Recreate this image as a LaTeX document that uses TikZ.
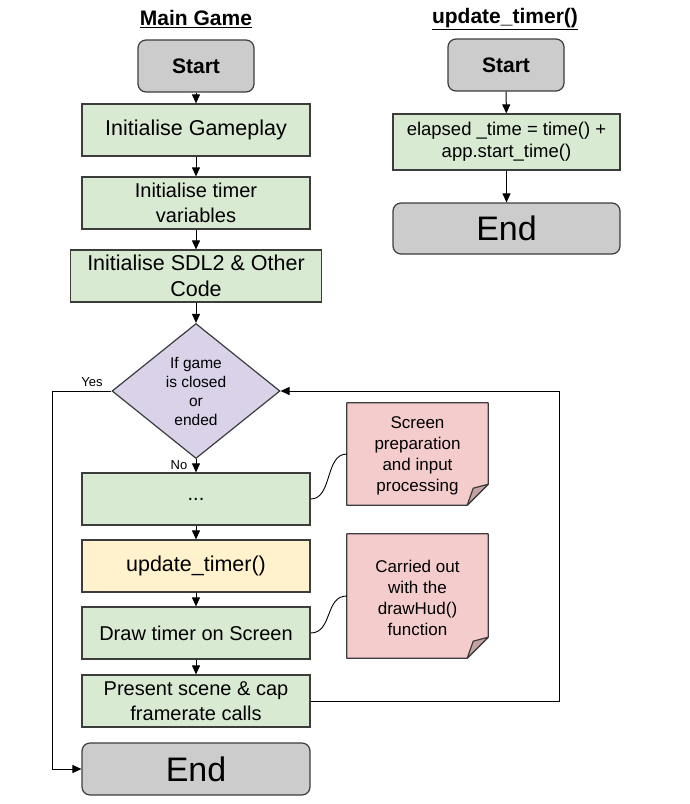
\documentclass[tikz,border=0pt]{standalone}
\usepackage{fontspec}
\setmainfont{Liberation Sans}
\usetikzlibrary{arrows.meta,shapes.geometric,calc}
\definecolor{boxgreen}{HTML}{D9EAD3}
\definecolor{boxgray}{HTML}{CCCCCC}
\definecolor{boxyellow}{HTML}{FFF2CC}
\definecolor{boxpurple}{HTML}{D9D2E9}
\definecolor{boxpink}{HTML}{F4CCCC}
\definecolor{foldpink}{HTML}{C4A3A3}
\definecolor{edgegray}{HTML}{3C3C3C}
\tikzset{
  base/.style={draw=edgegray, line width=1.2pt, align=center, inner sep=2pt, text=black},
  procbox/.style={base, rectangle, fill=boxgreen, minimum width=228pt, minimum height=52pt},
  termbox/.style={base, rectangle, rounded corners=8pt, fill=boxgray},
  decbox/.style={base, diamond, fill=boxpurple, minimum width=168pt, minimum height=135pt, inner sep=0pt},
  notebox/.style={rectangle, minimum width=141pt, align=center, inner sep=0pt},
  notetxt/.style={align=center, inner sep=0pt, font=\fontsize{17}{21}\selectfont},
  flow/.style={draw=black, line width=1pt, -{Triangle[length=9pt,width=8pt]}},
  link/.style={draw=black, line width=0.9pt},
  notefrm/.style={draw=edgegray, line width=1.2pt, line join=round},
  titletxt/.style={font=\fontsize{21}{25}\selectfont\bfseries},
  lbl/.style={font=\fontsize{13}{15}\selectfont, inner sep=0pt}
}
\begin{document}
\begin{tikzpicture}[x=1pt,y=-1pt]
\useasboundingbox (0,0) rectangle (689,804);

% titles
\node[titletxt] (t1) at (196,19) {\underline{Main Game}};
\node[titletxt] (t2) at (505,19) {\underline{update\_timer()}};

% main game column
\node[termbox, minimum width=116pt, minimum height=52pt, font=\fontsize{21}{25}\selectfont\bfseries] (s1) at (196,66) {Start};
\node[procbox, font=\fontsize{21.5}{26}\selectfont] (ig) at (196,130) {Initialise Gameplay};
\node[procbox, font=\fontsize{20}{25}\selectfont] (itv) at (196,203) {Initialise timer\\variables};
\node[procbox, minimum width=251pt, font=\fontsize{21.5}{26}\selectfont] (sdl) at (196,276) {Initialise SDL2 \& Other\\Code};
\node[decbox, font=\fontsize{15.5}{19}\selectfont] (dia) at (196,391) {If game\\is closed\\or\\ended};
\node[procbox, font=\fontsize{20}{24}\selectfont] (dots) at (196,499) {...};
\node[procbox, fill=boxyellow, font=\fontsize{21.5}{26}\selectfont] (upd) at (196,566) {update\_timer()};
\node[procbox, font=\fontsize{20}{25}\selectfont] (drw) at (196,633) {Draw timer on Screen};
\node[procbox, font=\fontsize{20}{25}\selectfont] (pres) at (196,701) {Present scene \& cap\\framerate calls};
\node[termbox, minimum width=228pt, minimum height=52pt, font=\fontsize{34}{38}\selectfont] (e1) at (196,769) {End};

% notes (frames)
\node[notebox, minimum height=102pt] (n1) at (417.5,454) {};
\node[notebox, minimum height=124pt] (n2) at (417.5,596) {};
\filldraw[notefrm, fill=boxpink] (n1.north west) -- (n1.north east) -- ($(n1.south east)+(0,-21)$) -- ($(n1.south east)+(-21,0)$) -- (n1.south west) -- cycle;
\filldraw[notefrm, fill=boxpink] (n2.north west) -- (n2.north east) -- ($(n2.south east)+(0,-21)$) -- ($(n2.south east)+(-21,0)$) -- (n2.south west) -- cycle;
\filldraw[notefrm, fill=foldpink] ($(n1.south east)+(0,-21)$) -- ($(n1.south east)+(-15,-17)$) -- ($(n1.south east)+(-21,0)$) -- cycle;
\filldraw[notefrm, fill=foldpink] ($(n2.south east)+(0,-21)$) -- ($(n2.south east)+(-15,-17)$) -- ($(n2.south east)+(-21,0)$) -- cycle;
\node[notetxt] (n1t) at ($(n1)+(0,2)$) {Screen\\preparation\\and input\\processing};
\node[notetxt] (n2t) at ($(n2)+(0,2)$) {Carried out\\with the\\drawHud()\\function};

% note links
\draw[link] (dots.east) .. controls +(22,0) and +(-22,0) .. (n1.west);
\draw[link] (drw.east) .. controls +(22,0) and +(-22,0) .. (n2.west);

% flow arrows
\draw[flow] (s1) -- (ig);
\draw[flow] (ig) -- (itv);
\draw[flow] (itv) -- (sdl);
\draw[flow] (sdl) -- (dia);
\draw[flow] (dia) -- (dots);
\draw[flow] (dots) -- (upd);
\draw[flow] (upd) -- (drw);
\draw[flow] (drw) -- (pres);

% loops
\coordinate (rc) at (559,391);
\coordinate (lc) at (52,391);
\draw[flow] (pres.east) -| (rc) -- (dia.east);
\draw[flow] (dia.west) -- (lc) |- (e1.west);
\node[lbl] (yes) at (92,382) {Yes};
\node[lbl] (no) at (179,465) {No};

% update_timer column
\node[termbox, minimum width=116pt, minimum height=52pt, font=\fontsize{21}{25}\selectfont\bfseries] (s2) at (506,65) {Start};
\node[procbox, minimum width=227pt, minimum height=56pt, font=\fontsize{18.5}{22}\selectfont] (el) at (506.5,142) {elapsed \_time = time() +\\app.start\_time()};
\node[termbox, minimum width=227pt, minimum height=51pt, font=\fontsize{34}{38}\selectfont] (e2) at (506.5,228.5) {End};
\draw[flow] (s2) -- (el);
\draw[flow] (el) -- (e2);
\end{tikzpicture}
\end{document}
